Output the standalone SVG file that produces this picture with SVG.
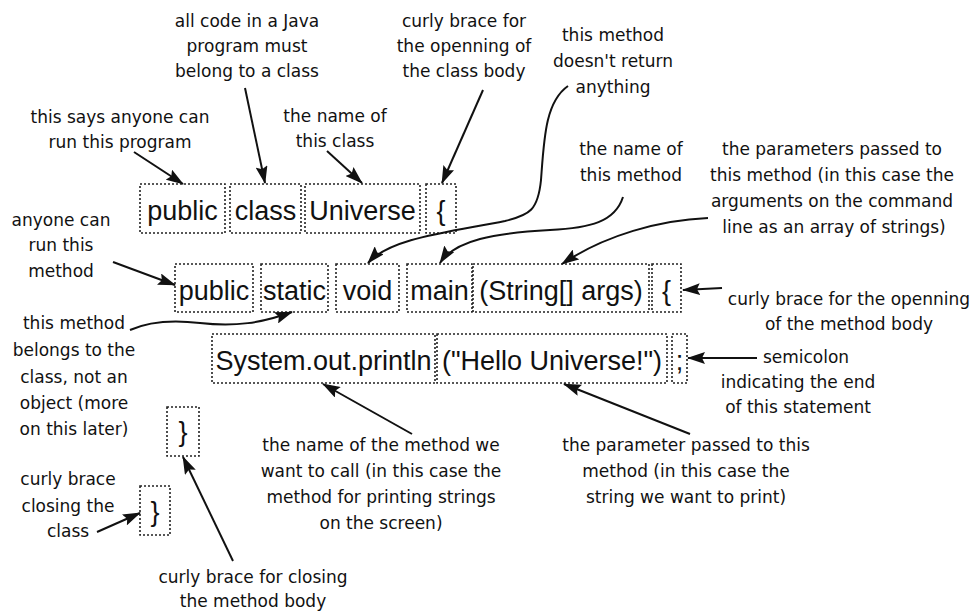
<svg xmlns="http://www.w3.org/2000/svg" width="979" height="614" viewBox="0 0 979 614">
<style>
.bx{fill:none;stroke:#222;stroke-width:1.6;stroke-dasharray:2 2}
.cd{font-family:"Liberation Sans",Arial,sans-serif;font-size:27px;fill:#111;text-anchor:middle}
.an{font-family:"DejaVu Sans","Noto Sans",sans-serif;font-size:17px;fill:#111;text-anchor:middle}
.ln{fill:none;stroke:#111;stroke-width:2;marker-end:url(#ah)}
</style>
<defs>
<marker id="ah" viewBox="0 0 18 12" refX="17" refY="6" markerWidth="18" markerHeight="12" markerUnits="userSpaceOnUse" orient="auto">
<path d="M0,0 L18,6 L0,12 L3,6 z" fill="#111"/>
</marker>
</defs>
<rect width="979" height="614" fill="#fff"/>

<g id="row1">
<g id="n-public1"><rect class="bx" x="140" y="184" width="85" height="49"/><text class="cd" x="182.5" y="220">public</text></g>
<g id="n-class"><rect class="bx" x="230" y="184" width="71" height="49"/><text class="cd" x="265.5" y="220">class</text></g>
<g id="n-universe"><rect class="bx" x="305" y="184" width="115" height="49"/><text class="cd" x="362.5" y="220">Universe</text></g>
<g id="n-brace1"><rect class="bx" x="426" y="184" width="30" height="49"/><text class="cd" x="441" y="220">{</text></g>
</g>

<g id="row2">
<g id="n-public2"><rect class="bx" x="175" y="264" width="78" height="48"/><text class="cd" x="214" y="300">public</text></g>
<g id="n-static"><rect class="bx" x="261" y="264" width="67" height="48"/><text class="cd" x="294.5" y="300">static</text></g>
<g id="n-void"><rect class="bx" x="336" y="264" width="63" height="48"/><text class="cd" x="367.5" y="300">void</text></g>
<g id="n-main"><rect class="bx" x="407" y="264" width="65" height="48"/><text class="cd" x="439.5" y="300">main</text></g>
<g id="n-args"><rect class="bx" x="473" y="264" width="176" height="48"/><text class="cd" x="561" y="300">(String[] args)</text></g>
<g id="n-brace2"><rect class="bx" x="652" y="264" width="29" height="48"/><text class="cd" x="666.5" y="300">{</text></g>
</g>

<g id="row3">
<g id="n-println"><rect class="bx" x="212" y="334" width="223" height="49"/><text class="cd" x="323.5" y="370">System.out.println</text></g>
<g id="n-hello"><rect class="bx" x="437" y="334" width="230" height="49"/><text class="cd" x="552" y="370">("Hello Universe!")</text></g>
<g id="n-semi"><rect class="bx" x="672" y="334" width="15" height="49"/><text class="cd" x="679.5" y="370">;</text></g>
</g>

<g id="n-brace3"><rect class="bx" x="167" y="407" width="32" height="49"/><text class="cd" x="183" y="441">}</text></g>
<g id="n-brace4"><rect class="bx" x="140" y="486" width="30" height="49"/><text class="cd" x="155" y="521">}</text></g>

<g id="labels">
<g id="l-code"><text class="an" x="247" y="27">all code in a Java</text><text class="an" x="247" y="52">program must</text><text class="an" x="247" y="77">belong to a class</text></g>
<g id="l-cb1"><text class="an" x="464" y="27">curly brace for</text><text class="an" x="464" y="52">the openning of</text><text class="an" x="464" y="77">the class body</text></g>
<g id="l-void"><text class="an" x="613" y="41">this method</text><text class="an" x="613" y="67">doesn't return</text><text class="an" x="613" y="93">anything</text></g>
<g id="l-pub1"><text class="an" x="120" y="123">this says anyone can</text><text class="an" x="120" y="148">run this program</text></g>
<g id="l-cls"><text class="an" x="335" y="122">the name of</text><text class="an" x="335" y="147">this class</text></g>
<g id="l-main"><text class="an" x="631" y="155">the name of</text><text class="an" x="631" y="181">this method</text></g>
<g id="l-args"><text class="an" x="832" y="155">the parameters passed to</text><text class="an" x="832" y="181">this method (in this case the</text><text class="an" x="832" y="207">arguments on the command</text><text class="an" x="834" y="233">line as an array of strings)</text></g>
<g id="l-pub2"><text class="an" x="61" y="226">anyone can</text><text class="an" x="61" y="251">run this</text><text class="an" x="61" y="277">method</text></g>
<g id="l-cb2"><text class="an" x="849" y="305">curly brace for the openning</text><text class="an" x="849" y="330">of the method body</text></g>
<g id="l-static"><text class="an" x="74" y="329">this method</text><text class="an" x="74" y="356">belongs to the</text><text class="an" x="74" y="383">class, not an</text><text class="an" x="74" y="409">object (more</text><text class="an" x="74" y="435">on this later)</text></g>
<g id="l-semi"><text class="an" x="806" y="363">semicolon</text><text class="an" x="798" y="388">indicating the end</text><text class="an" x="798" y="413">of this statement</text></g>
<g id="l-println"><text class="an" x="381" y="451">the name of the method we</text><text class="an" x="381" y="477">want to call (in this case the</text><text class="an" x="381" y="503">method for printing strings</text><text class="an" x="381" y="529">on the screen)</text></g>
<g id="l-hello"><text class="an" x="686" y="451">the parameter passed to this</text><text class="an" x="686" y="477">method (in this case the</text><text class="an" x="686" y="503">string we want to print)</text></g>
<g id="l-cb4"><text class="an" x="68" y="485">curly brace</text><text class="an" x="68" y="512">closing the</text><text class="an" x="68" y="537">class</text></g>
<g id="l-cb3"><text class="an" x="253" y="583">curly brace for closing</text><text class="an" x="253" y="607">the method body</text></g>
</g>

<g id="connectors">
<path class="ln" d="M134 152 L183 184"/>
<path class="ln" d="M245 88 L265 183"/>
<path class="ln" d="M327 151 L362 183"/>
<path class="ln" d="M483 90 L442 183"/>
<path class="ln" d="M568 86 C545 102 544 140 541 180 C538 210 530 215 505 221 C450 232 390 238 368 263"/>
<path class="ln" d="M623 197 C615 222 590 228 550 230 C495 233 455 240 440 263"/>
<path class="ln" d="M708 218 C660 220 605 235 562 264"/>
<path class="ln" d="M113 262 L175 285"/>
<path class="ln" d="M722 288 L683 290"/>
<path class="ln" d="M130 330 C150 321 175 320 200 323 C235 327 262 323 292 312"/>
<path class="ln" d="M412 434 L323 384"/>
<path class="ln" d="M690 434 L564 384"/>
<path class="ln" d="M757 358 L688 358"/>
<path class="ln" d="M97 532 L140 513"/>
<path class="ln" d="M233 561 L183 457"/>
</g>
</svg>
